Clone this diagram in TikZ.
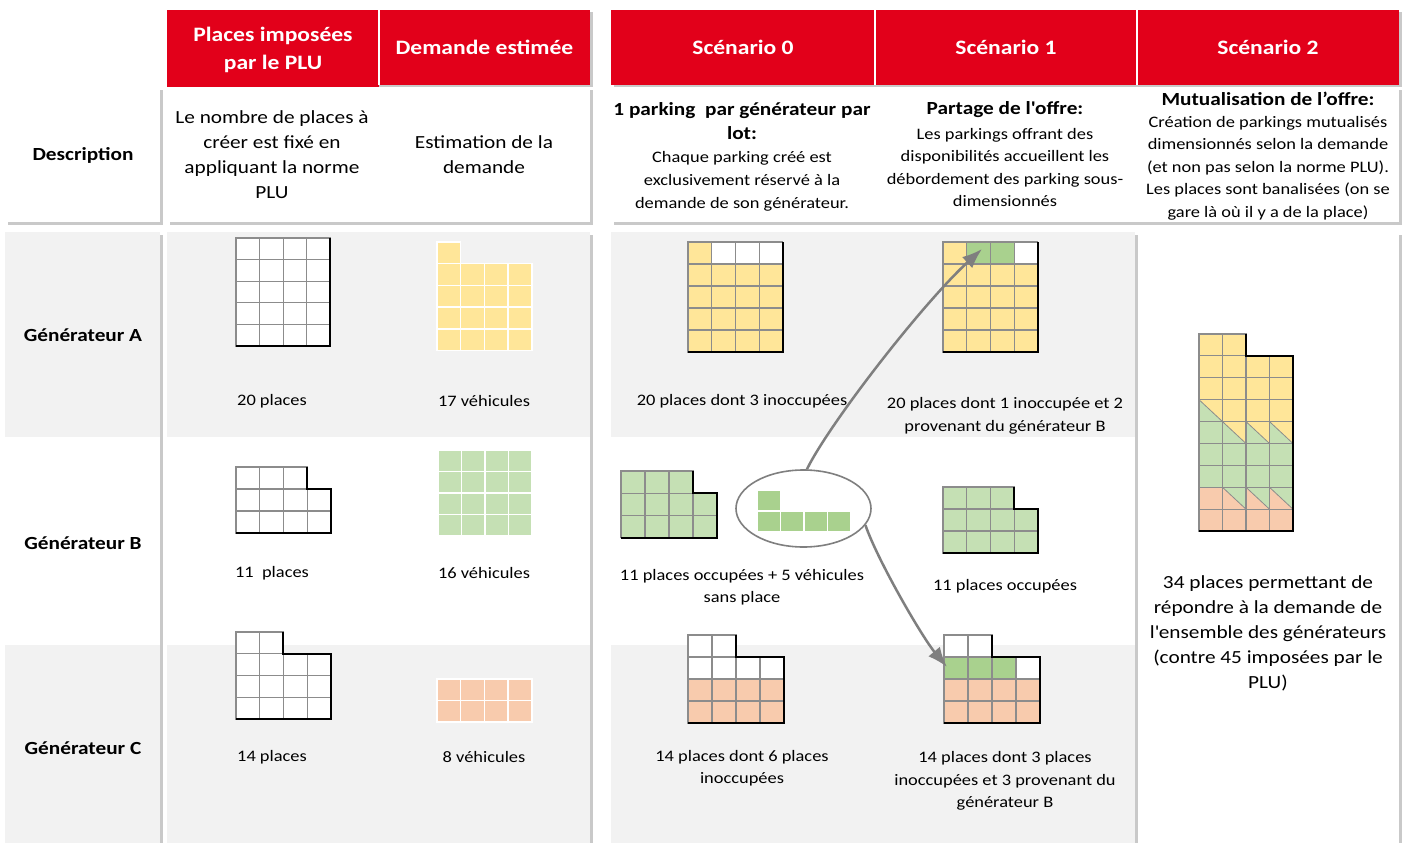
\documentclass[tikz,border=0pt]{standalone}
\usepackage{fontspec}
\setmainfont{Carlito}[FakeStretch=1.15]
\usetikzlibrary{shapes.geometric,shadows,arrows.meta}

\definecolor{rouge}{HTML}{E2001A}
\definecolor{jaune}{HTML}{FFE699}
\definecolor{vertc}{HTML}{C5E0B4}
\definecolor{vertf}{HTML}{A9D18E}
\definecolor{saumon}{HTML}{F8CBAD}
\definecolor{grisfond}{HTML}{F2F2F2}
\definecolor{grille}{HTML}{8C8C8C}
\definecolor{fleche}{HTML}{7F7F7F}

\tikzset{
  entete/.style={fill=rouge, text=white, inner sep=0pt, minimum height=75pt,
    font=\bfseries\fontsize{20.5}{28}\selectfont, align=center},
  separ/.style={draw=white, line width=2.5pt},
  panneau/.style={fill=white, drop shadow={shadow xshift=3pt, shadow yshift=-2.5pt,
    opacity=0.3, fill=black!70}},
  fond/.style={fill=grisfond},
  titre/.style={font=\bfseries\fontsize{18.5}{24}\selectfont, align=center, inner sep=0pt},
  texte/.style={font=\fontsize{18.5}{25}\selectfont, align=center, inner sep=0pt},
  petit/.style={font=\fontsize{16}{22.5}\selectfont, align=center, inner sep=0pt},
  case/.style={draw=grille, line width=1.1pt},
  vehic/.style={draw=white, line width=1.4pt},
  bord/.style={draw=black, line width=2pt},
  diag/.style={draw=grille, line width=0.8pt},
  trait/.style={draw=fleche, line width=2.5pt}
}

% une place : style, colonne, ligne
\newcommand{\placeP}[3]{\filldraw[#1] (#2,#3) rectangle ++(1,1);}

\begin{document}
\begin{tikzpicture}[x=1pt, y=-1pt]
\useasboundingbox (0,0) rectangle (1406,843);

% Bandeaux rouges (avec ombre)
\fill[panneau, fill=rouge] (167,10) rectangle (590,85);
\fill[panneau, fill=rouge] (611,10) rectangle (1399,85);
\node[entete, minimum width=212pt] (hPLU) at (273,49.5) {Places imposées\\par le PLU};
\node[entete, minimum width=211pt] (hDem) at (484.5,47.5) {Demande estimée};
\node[entete, minimum width=264pt] (hSa) at (743,47.5) {Scénario 0};
\node[entete, minimum width=262pt] (hSb) at (1006,47.5) {Scénario 1};
\node[entete, minimum width=262pt] (hSc) at (1268,47.5) {Scénario 2};
% traits blancs entre les colonnes
\draw[separ] (hDem.north west) -- (hDem.south west);
\draw[separ] (hSa.north east) -- (hSa.south east);
\draw[separ] (hSb.north east) -- (hSb.south east);

% Ligne Description
\fill[panneau] (5,88) rectangle (160,222);
\fill[panneau] (167,88) rectangle (590,222);
\fill[panneau] (611,88) rectangle (1399,222);

% Corps du tableau : panneaux puis bandes grises (A et C)
\fill[panneau] (5,232) rectangle (160,850);
\fill[panneau] (167,232) rectangle (590,850);
\fill[panneau] (611,232) rectangle (1135,850);
\fill[panneau] (1138,232) rectangle (1399,850);
\foreach \xa/\xb in {5/160, 167/590, 611/1135} {
  \fill[fond] (\xa,232) rectangle (\xb,437);
  \fill[fond] (\xa,645) rectangle (\xb,850);
}

% Textes de la ligne Description
\node[titre] (desc) at (83,155) {Description};
\node[texte] (descPLU) at (272,155) {Le nombre de places à\\créer est fixé en\\appliquant la norme\\PLU};
\node[texte] (descDem) at (484,155) {Estimation de la\\demande};
\node[titre] (saTitre) at (742,121) {1 parking~ par générateur par\\lot:};
\node[petit, font=\fontsize{16}{23}\selectfont] (saTexte) at (742,181) {Chaque parking créé est\\exclusivement réservé à la\\demande de son générateur.};
\node[titre] (sbTitre) at (1005,110) {Partage de l\textquotesingle offre:};
\node[petit] (sbTexte) at (1005,167.5) {Les parkings offrant des\\disponibilités accueillent les\\débordement des parking sous-\\dimensionnés};
\node[titre] (scTitre) at (1268,99) {Mutualisation de l’offre:};
\node[petit] (scTexte) at (1268,168) {Création de parkings mutualisés\\dimensionnés selon la demande\\(et non pas selon la norme PLU).\\Les places sont banalisées (on se\\gare là où il y a de la place)};

% Générateurs
\node[titre] (genA) at (83,335) {Générateur A};
\node[titre] (genB) at (83,543) {Générateur B};
\node[titre] (genC) at (83,748) {Générateur C};

% Légendes des cases
\node[petit] (plA) at (272,401) {20 places};
\node[petit] (dmA) at (484,401) {17 véhicules};
\node[petit] (plB) at (272,573) {11~ places};
\node[petit] (dmB) at (484,573) {16 véhicules};
\node[petit] (plC) at (272,757) {14 places};
\node[petit] (dmC) at (484,757) {8 véhicules};
\node[petit] (saA) at (742,401) {20 places dont 3 inoccupées};
\node[petit] (sbA) at (1005,416) {20 places dont 1 inoccupée et 2\\provenant du générateur B};
\node[petit] (saB) at (742,587) {11 places occupées + 5 véhicules\\sans place};
\node[petit] (sbB) at (1005,586) {11 places occupées};
\node[petit] (saC) at (742,768) {14 places dont 6 places\\inoccupées};
\node[petit] (sbC) at (1005,781) {14 places dont 3 places\\inoccupées et 3 provenant du\\générateur B};
\node[texte] (scBilan) at (1268,633.5) {34 places permettant de\\répondre à la demande de\\l\textquotesingle ensemble des générateurs\\(contre 45 imposées par le\\PLU)};

% Places imposées par le PLU
\begin{scope}[shift={(236,238)}, x=23.6pt, y=-21.6pt]
  \foreach \colonne in {0,...,3} \foreach \ligne in {0,...,4} {\placeP{case,fill=white}{\colonne}{\ligne}}
  \draw[bord] (4,0) -- (4,5) -- (0,5);
\end{scope}
\begin{scope}[shift={(236,467)}, x=23.7pt, y=-22pt]
  \foreach \colonne in {0,1,2} {\placeP{case,fill=white}{\colonne}{0}}
  \foreach \colonne in {0,...,3} \foreach \ligne in {1,2} {\placeP{case,fill=white}{\colonne}{\ligne}}
  \draw[bord] (3,0) -- (3,1) -- (4,1) -- (4,3) -- (0,3);
\end{scope}
\begin{scope}[shift={(236,632)}, x=23.7pt, y=-21.75pt]
  \foreach \colonne in {0,1} {\placeP{case,fill=white}{\colonne}{0}}
  \foreach \colonne in {0,...,3} \foreach \ligne in {1,2,3} {\placeP{case,fill=white}{\colonne}{\ligne}}
  \draw[bord] (2,0) -- (2,1) -- (4,1) -- (4,4) -- (0,4);
\end{scope}

% Demande estimée (véhicules)
\begin{scope}[shift={(437,242)}, x=23.7pt, y=-21.7pt]
  \placeP{vehic,fill=jaune}{0}{0}
  \foreach \colonne in {0,...,3} \foreach \ligne in {1,...,4} {\placeP{vehic,fill=jaune}{\colonne}{\ligne}}
\end{scope}
\begin{scope}[shift={(438,450)}, x=23.5pt, y=-21.5pt]
  \foreach \colonne in {0,...,3} \foreach \ligne in {0,...,3} {\placeP{vehic,fill=vertc}{\colonne}{\ligne}}
\end{scope}
\begin{scope}[shift={(437,679)}, x=23.7pt, y=-21.5pt]
  \foreach \colonne in {0,...,3} \foreach \ligne in {0,1} {\placeP{vehic,fill=saumon}{\colonne}{\ligne}}
\end{scope}

% Scénario 0
\begin{scope}[shift={(688,242)}, x=23.7pt, y=-22pt]
  \placeP{case,fill=jaune}{0}{0}
  \foreach \colonne in {1,2,3} {\placeP{case,fill=white}{\colonne}{0}}
  \foreach \colonne in {0,...,3} \foreach \ligne in {1,...,4} {\placeP{case,fill=jaune}{\colonne}{\ligne}}
  \draw[bord] (4,0) -- (4,5) -- (0,5);
\end{scope}
\begin{scope}[shift={(621,471)}, x=24pt, y=-22.3pt]
  \foreach \colonne in {0,1,2} {\placeP{case,fill=vertc}{\colonne}{0}}
  \foreach \colonne in {0,...,3} \foreach \ligne in {1,2} {\placeP{case,fill=vertc}{\colonne}{\ligne}}
  \draw[bord] (3,0) -- (3,1) -- (4,1) -- (4,3) -- (0,3);
\end{scope}
\begin{scope}[shift={(688,635)}, x=24pt, y=-22pt]
  \foreach \colonne in {0,1} {\placeP{case,fill=white}{\colonne}{0}}
  \foreach \colonne in {0,...,3} {\placeP{case,fill=white}{\colonne}{1}}
  \foreach \colonne in {0,...,3} \foreach \ligne in {2,3} {\placeP{case,fill=saumon}{\colonne}{\ligne}}
  \draw[bord] (2,0) -- (2,1) -- (4,1) -- (4,4) -- (0,4);
\end{scope}

% Les 5 véhicules sans place (dans la bulle)
\node[ellipse, draw=fleche, line width=1.6pt, minimum width=135pt, minimum height=77pt, inner sep=0pt] (bulle) at (803.5,508.5) {};
\begin{scope}[shift={(757,490)}, x=23.4pt, y=-21pt]
  \placeP{vehic,fill=vertf}{0}{0}
  \foreach \colonne in {0,...,3} {\placeP{vehic,fill=vertf}{\colonne}{1}}
\end{scope}

% Scénario 1
\begin{scope}[shift={(943,242)}, x=23.7pt, y=-22pt]
  \placeP{case,fill=jaune}{0}{0}
  \placeP{case,fill=vertf}{1}{0}
  \placeP{case,fill=vertf}{2}{0}
  \placeP{case,fill=white}{3}{0}
  \foreach \colonne in {0,...,3} \foreach \ligne in {1,...,4} {\placeP{case,fill=jaune}{\colonne}{\ligne}}
  \draw[bord] (4,0) -- (4,5) -- (0,5);
\end{scope}
\begin{scope}[shift={(943,487)}, x=23.8pt, y=-22pt]
  \foreach \colonne in {0,1,2} {\placeP{case,fill=vertc}{\colonne}{0}}
  \foreach \colonne in {0,...,3} \foreach \ligne in {1,2} {\placeP{case,fill=vertc}{\colonne}{\ligne}}
  \draw[bord] (3,0) -- (3,1) -- (4,1) -- (4,3) -- (0,3);
\end{scope}
\begin{scope}[shift={(944,635)}, x=24pt, y=-22pt]
  \foreach \colonne in {0,1} {\placeP{case,fill=white}{\colonne}{0}}
  \foreach \colonne in {0,1,2} {\placeP{case,fill=vertf}{\colonne}{1}}
  \placeP{case,fill=white}{3}{1}
  \foreach \colonne in {0,...,3} \foreach \ligne in {2,3} {\placeP{case,fill=saumon}{\colonne}{\ligne}}
  \draw[bord] (2,0) -- (2,1) -- (4,1) -- (4,4) -- (0,4);
\end{scope}

% Scénario 2 : parking mutualisé
\begin{scope}[shift={(1199,334)}, x=23.5pt, y=-21.9pt]
  \fill[jaune] (0,0) rectangle (2,1);
  \fill[jaune] (0,1) rectangle (4,4);
  \fill[vertc] (0,4) rectangle (4,7);
  \fill[saumon] (0,7) rectangle (4,9);
  % demi-places partagées
  \fill[vertc] (0,3) -- (0,4) -- (1,4) -- cycle;
  \draw[diag] (0,3) -- (1,4);
  \foreach \colonne in {1,2,3} {
    \fill[jaune] (\colonne,4) -- (\colonne+1,4) -- (\colonne+1,5) -- cycle;
    \fill[vertc] (\colonne,7) -- (\colonne+1,7) -- (\colonne+1,8) -- cycle;
    \draw[diag] (\colonne,4) -- (\colonne+1,5);
    \draw[diag] (\colonne,7) -- (\colonne+1,8);
  }
  \foreach \colonne in {0,1} {\draw[case] (\colonne,0) rectangle ++(1,1);}
  \foreach \colonne in {0,...,3} \foreach \ligne in {1,...,8} {\draw[case] (\colonne,\ligne) rectangle ++(1,1);}
  \draw[bord] (2,0) -- (2,1) -- (4,1) -- (4,9) -- (0,9);
\end{scope}

% Flèches : report des véhicules de B
\coordinate (cibleA) at (982,249);
\coordinate (cibleC) at (947,667);
\draw[trait, -{Latex[length=20pt,width=15pt]}] (bulle.85) .. controls +(22,-45) and +(-60,55) .. (cibleA);
\draw[trait, -{Latex[length=20pt,width=15pt]}] (bulle.-15) .. controls +(12,35) and +(-25,-30) .. (cibleC);
\end{tikzpicture}
\end{document}
